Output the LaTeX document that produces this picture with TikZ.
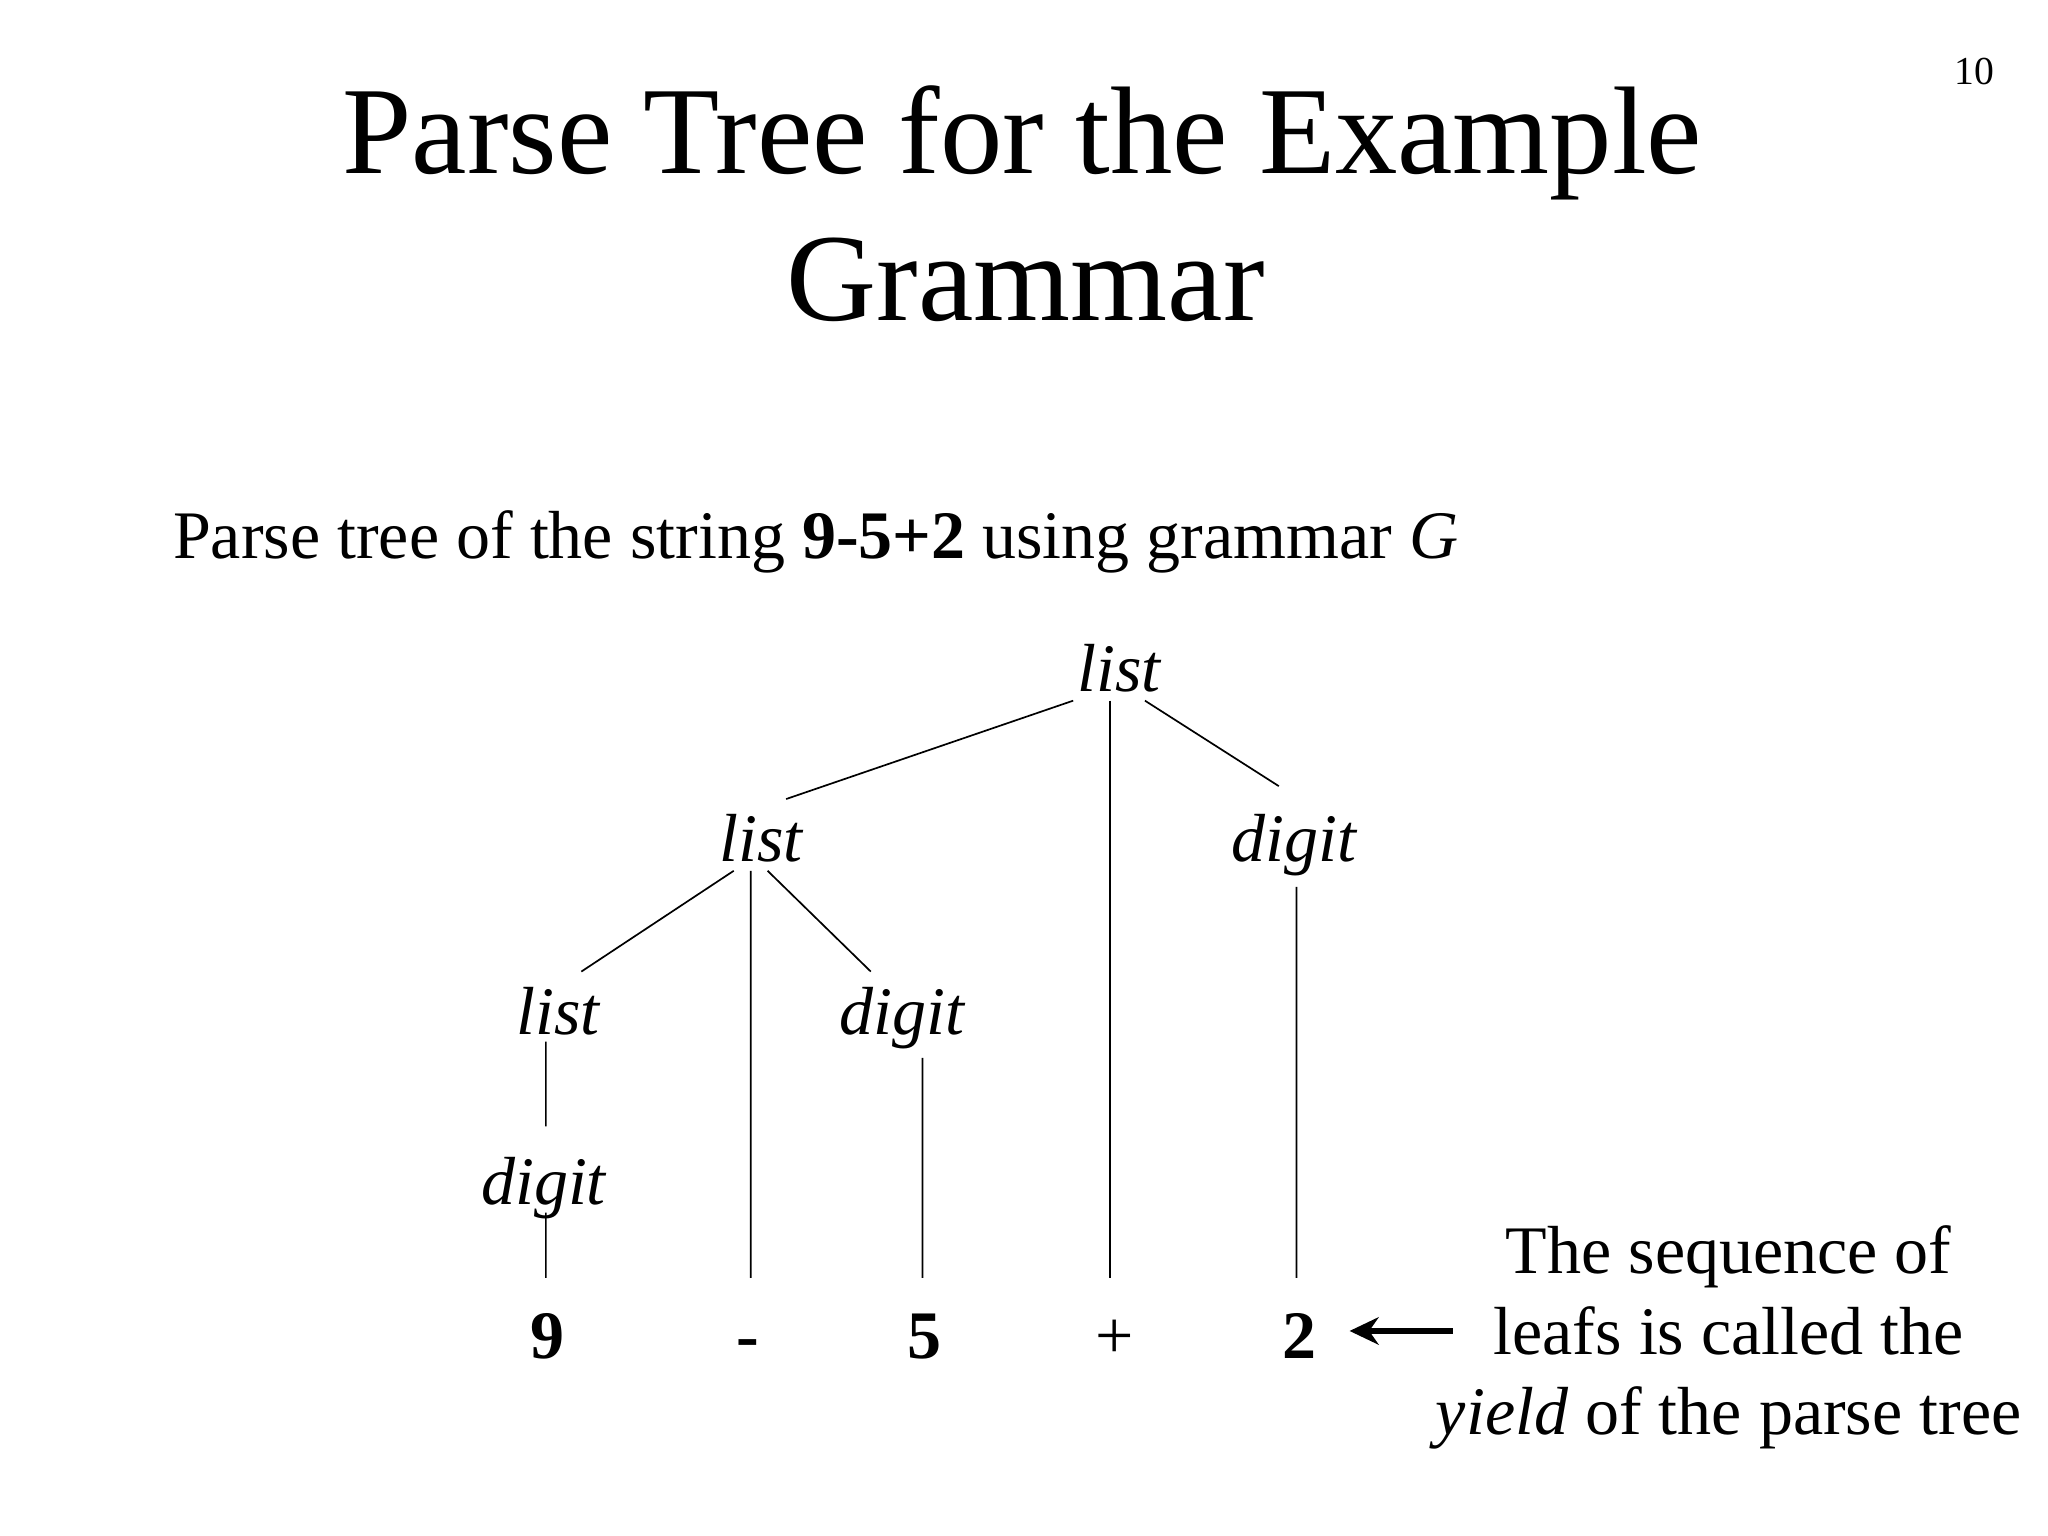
\documentclass[tikz,border=0pt]{standalone}
\usepackage{fontspec}
\setmainfont{Liberation Serif}
\usetikzlibrary{arrows.meta}
\begin{document}
\begin{tikzpicture}[
  sym/.style={anchor=base,inner sep=0pt,font=\fontsize{24}{29}\selectfont\itshape},
  leaf/.style={anchor=base,inner sep=0pt,font=\fontsize{24}{29}\selectfont\bfseries},
  txt/.style={anchor=base,inner sep=0pt,font=\fontsize{24}{29}\selectfont},
  big/.style={anchor=base,inner sep=0pt,font=\fontsize{44}{53}\selectfont},
  edge/.style={line width=0.6pt}]
  \useasboundingbox (0,0) rectangle (25.4,19.05);
  % title and page number
  \node[big] (title1) at (12.68,16.90) {Parse Tree for the Example};
  \node[big] (title2) at (12.72,15.08) {Grammar};
  \node[anchor=base,inner sep=0pt,font=\fontsize{14}{17}\selectfont] (pageno) at (24.49,18.0) {10};
  \node[txt,anchor=base west] (sub) at (2.14,12.12) {Parse tree of the string \textbf{9-5+2} using grammar \textit{G}};
  % inner nodes
  \node[sym] (list1) at (13.88,10.47) {list};
  \node[sym] (list2) at (9.44,8.36) {list};
  \node[sym] (digit2) at (16.05,8.36) {digit};
  \node[sym] (list3) at (6.92,6.22) {list};
  \node[sym] (digit3) at (11.19,6.22) {digit};
  \node[sym] (digit4) at (6.74,4.11) {digit};
  % leaves
  \node[leaf] (nine) at (6.79,2.20) {9};
  \node[leaf] (minus) at (9.28,2.20) {-};
  \node[leaf] (five) at (11.47,2.20) {5};
  \node[txt] (plus) at (13.82,2.20) {+};
  \node[leaf] (two) at (16.12,2.20) {2};
  % edges
  \draw[edge] ([shift={(-0.57,-0.11)}]list1.base) -- ([shift={(0.31,0.78)}]list2.base);
  \draw[edge] ([shift={(-0.11,-0.11)}]list1.base) -- ([shift={(-0.05,1.0)}]plus.base);
  \draw[edge] ([shift={(0.32,-0.11)}]list1.base) -- ([shift={(-0.19,0.94)}]digit2.base);
  \draw[edge] ([shift={(-0.34,-0.11)}]list2.base) -- ([shift={(0.29,0.78)}]list3.base);
  \draw[edge] ([shift={(-0.13,-0.11)}]list2.base) -- ([shift={(0.03,1.0)}]minus.base);
  \draw[edge] ([shift={(0.08,-0.11)}]list2.base) -- ([shift={(-0.39,0.78)}]digit3.base);
  \draw[edge] ([shift={(0.03,-0.31)}]digit2.base) -- ([shift={(-0.04,1.0)}]two.base);
  \draw[edge] ([shift={(-0.15,-0.09)}]list3.base) -- ([shift={(0.03,0.97)}]digit4.base);
  \draw[edge] ([shift={(0.25,-0.29)}]digit3.base) -- ([shift={(-0.03,1.0)}]five.base);
  \draw[edge] ([shift={(0.03,-0.10)}]digit4.base) -- ([shift={(-0.02,1.0)}]nine.base);
  % caption with arrow
  \node[txt] (cap1) at (21.44,3.26) {The sequence of};
  \node[txt] (cap2) at (21.44,2.25) {leafs is called the};
  \node[txt] (cap3) at (21.44,1.26) {\textit{yield} of the parse tree};
  \draw[line width=2pt,-{Stealth[length=3.6mm,width=3.4mm]},shorten <=0.50cm,shorten >=0.40cm] (cap2.west) -- (cap2.west -| two.east);
\end{tikzpicture}
\end{document}
